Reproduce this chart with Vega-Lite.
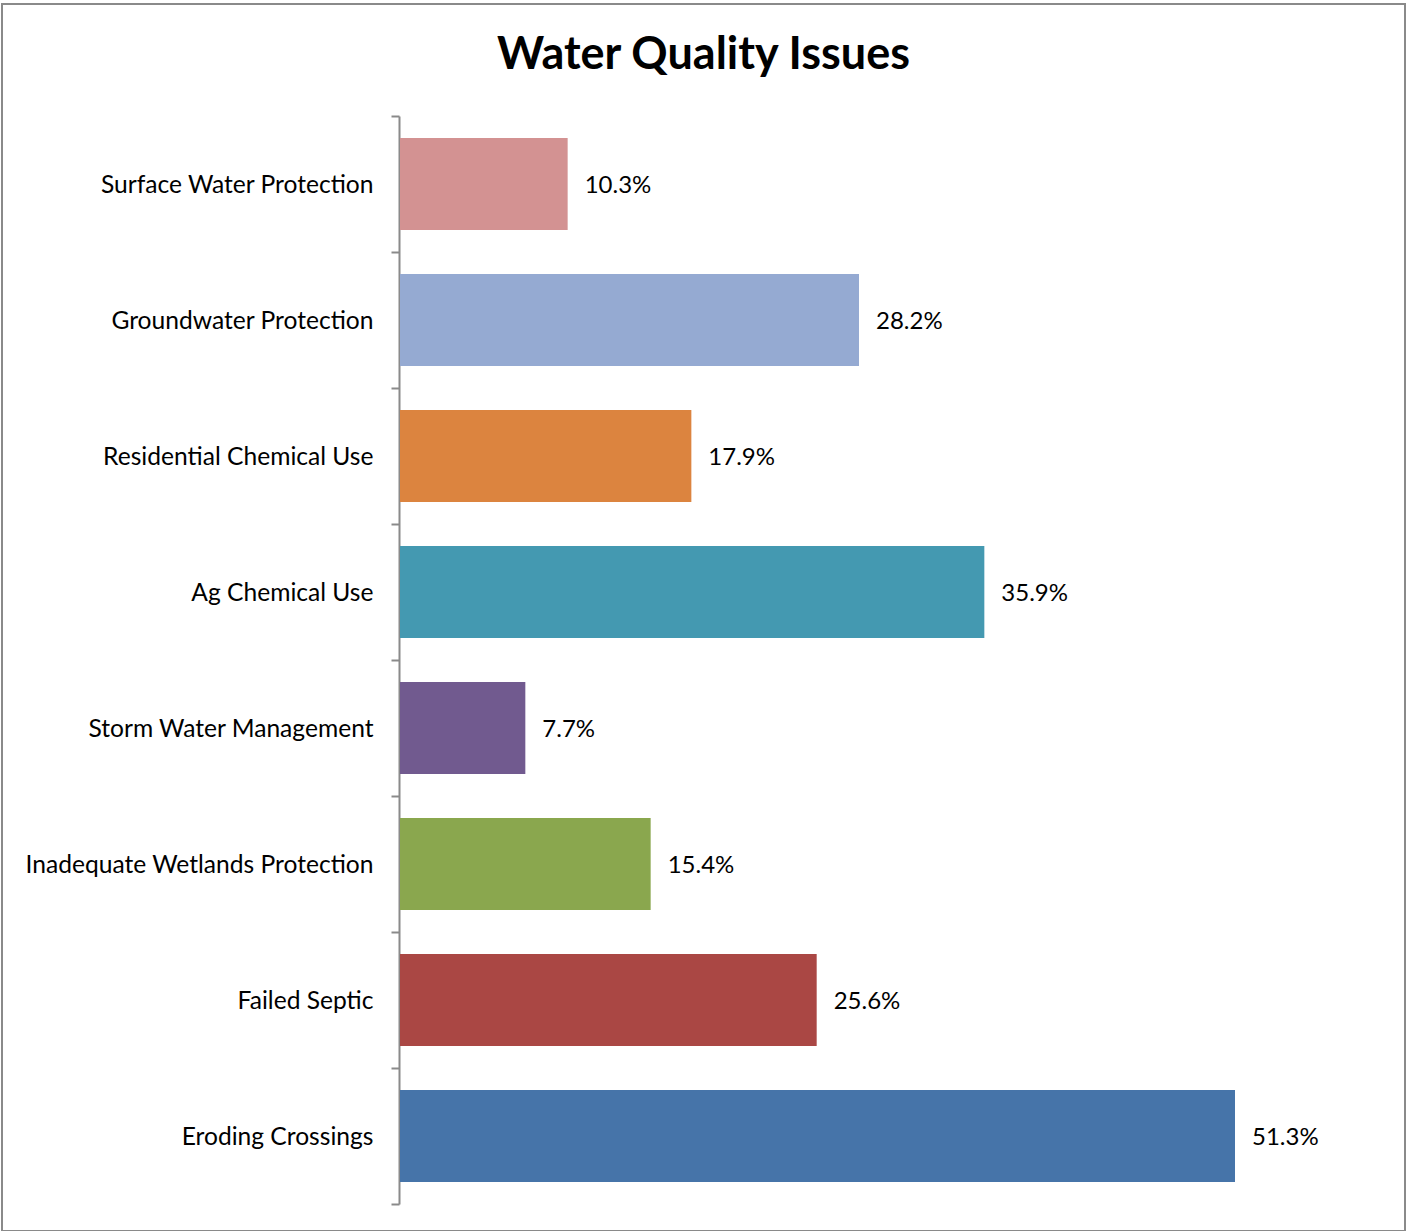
{
  "$schema": "https://vega.github.io/schema/vega-lite/v6.json",
  "width": 1403,
  "height": 1227,
  "autosize": {"type": "none"},
  "padding": {"left": 2, "top": 4, "right": 7, "bottom": 0},
  "background": "white",
  "config": {
    "view": {"stroke": "#8a8a8a", "strokeWidth": 2},
    "font": "Lato"
  },
  "title": {
    "text": "Water Quality Issues",
    "font": "Lato",
    "fontSize": 45,
    "fontWeight": "bold",
    "color": "#000000",
    "anchor": "middle",
    "frame": "group",
    "baseline": "alphabetic",
    "offset": -123
  },
  "data": {
    "values": [
      {"issue": "Surface Water Protection", "pct": 0.103},
      {"issue": "Groundwater Protection", "pct": 0.282},
      {"issue": "Residential Chemical Use", "pct": 0.179},
      {"issue": "Ag Chemical Use", "pct": 0.359},
      {"issue": "Storm Water Management", "pct": 0.077},
      {"issue": "Inadequate Wetlands Protection", "pct": 0.154},
      {"issue": "Failed Septic", "pct": 0.256},
      {"issue": "Eroding Crossings", "pct": 0.513}
    ]
  },
  "encoding": {
    "y": {
      "field": "issue",
      "type": "nominal",
      "sort": null,
      "scale": {"range": [112, 1200], "paddingInner": 0, "paddingOuter": 0},
      "axis": {
        "title": null,
        "offset": -397,
        "tickBand": "extent",
        "tickSize": 8,
        "tickWidth": 2,
        "tickColor": "#8a8a8a",
        "domainColor": "#8a8a8a",
        "domainWidth": 2,
        "labelFont": "Lato",
        "labelFontSize": 24.6,
        "labelColor": "#000000",
        "labelPadding": 18,
        "labelLimit": 500,
        "labelOffset": 1,
        "grid": false
      }
    },
    "x": {
      "field": "pct",
      "type": "quantitative",
      "scale": {"domain": [0, 0.513], "range": [398, 1233], "nice": false, "zero": true},
      "axis": null
    }
  },
  "layer": [
    {
      "mark": {"type": "bar", "height": {"band": 0.676}},
      "encoding": {
        "color": {
          "field": "issue",
          "type": "nominal",
          "legend": null,
          "scale": {
            "domain": ["Surface Water Protection", "Groundwater Protection", "Residential Chemical Use", "Ag Chemical Use", "Storm Water Management", "Inadequate Wetlands Protection", "Failed Septic", "Eroding Crossings"],
            "range": ["#d39292", "#95aad2", "#dc843f", "#4499b1", "#715a8f", "#8aa74e", "#aa4744", "#4674a9"]
          }
        }
      }
    },
    {
      "mark": {"type": "text", "align": "left", "baseline": "middle", "dx": 17, "dy": 2, "fontSize": 24, "font": "Lato", "color": "#000000"},
      "encoding": {
        "text": {"field": "pct", "type": "quantitative", "format": ".1%"}
      }
    }
  ]
}
